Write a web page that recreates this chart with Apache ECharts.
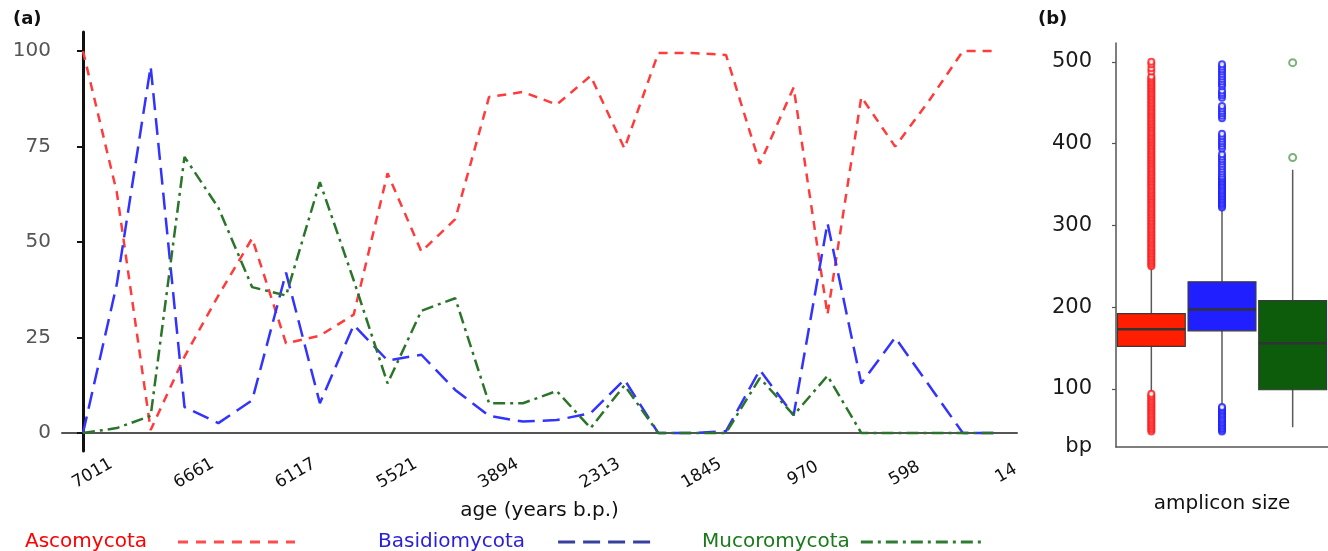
<!DOCTYPE html>
<html>
<head>
<meta charset="utf-8">
<script src="https://cdn.jsdelivr.net/npm/echarts@6/dist/echarts.min.js"></script>
<style>
  html, body { margin: 0; padding: 0; background: #fff; }
  #chart { width: 1328px; height: 551px; }
</style>
</head>
<body>
<div id="chart"></div>
<script>
// (a) relative abundance (%) per sample, oldest -> youngest
const ageTicks = ['7011', '6661', '6117', '5521', '3894', '2313', '1845', '970', '598', '14'];
const ageTickIndex = [0, 3, 6, 9, 12, 15, 18, 21, 24, 27];
const ascomycota = [100, 63, 0.8, 20, 36, 51, 23.5, 25.5, 31, 68, 47.5, 56, 88, 89.3, 86, 93.5, 74.5, 99.5, 99.5, 99, 70.5, 90.5, 31, 88, 75, 87, 100, 100];
const basidiomycota = [0, 39, 96, 6.8, 2.6, 8.6, 42, 7.8, 28.3, 19, 20.5, 11.3, 4.5, 3, 3.4, 5.2, 14, 0, 0, 0.5, 16.5, 4.7, 55, 13, 25, 12.5, 0, 0];
const mucoromycota = [0, 1.3, 4.5, 72.3, 59, 38.2, 36, 65.7, 40, 13, 32, 35.3, 7.8, 7.8, 11, 1.3, 12.5, 0, 0, 0, 14.4, 4.7, 15, 0, 0, 0, 0, 0];
const pctTicks = [0, 25, 50, 75, 100];

// (b) amplicon size (bp): [lower whisker, Q1, median, Q3, upper whisker]
const groups = ['Ascomycota', 'Basidiomycota', 'Mucoromycota'];
const boxStats = [
  [96, 152, 173, 192, 248],
  [82, 171, 197, 231, 320],
  [53, 99, 156, 208, 368]
];
const bpTicks = [100, 200, 300, 400, 500];
const ascoOutliers = [
  48, 50, 52, 54, 56, 58, 60, 62, 64, 66, 68, 70, 72, 74, 76, 78, 80, 82, 84, 86, 88, 90, 92, 94,
  250, 252, 254, 256, 258, 260, 262, 264, 266, 268, 270, 272, 274, 276, 278, 280, 282, 284, 286, 288,
  290, 292, 294, 296, 298, 300, 302, 304, 306, 308, 310, 312, 314, 316, 318, 320, 322, 324, 326, 328,
  330, 332, 334, 336, 338, 340, 342, 344, 346, 348, 350, 352, 354, 356, 358, 360, 362, 364, 366, 368,
  370, 372, 374, 376, 378, 380, 382, 384, 386, 388, 390, 392, 394, 396, 398, 400, 402, 404, 406, 408,
  410, 412, 414, 416, 418, 420, 422, 424, 426, 428, 430, 432, 434, 436, 438, 440, 442, 444, 446, 448,
  450, 452, 454, 456, 458, 460, 462, 464, 466, 468, 470, 472, 474, 476, 478, 480, 482,
  488, 492, 497, 500
];
const basidioOutliers = [
  48, 50, 52, 54, 56, 58, 60, 62, 64, 66, 68, 70, 72, 74, 76, 78,
  322, 324, 326, 328, 330, 332, 334, 336, 338, 340, 342, 344, 346, 348, 350, 352, 354, 356, 358, 360,
  363, 366, 369, 372, 375, 378, 381, 384, 387,
  394, 397, 400, 403, 406, 409, 412,
  431, 434, 437, 440, 443, 446,
  456, 459, 462, 465,
  470, 473, 476, 479, 482, 485, 488, 491, 494, 497
];
const mucoroOutliers = [383, 499];

const boxColors = ['#ff1e00', '#1f1fff', '#0c5c0c'];
const FONT = 'DejaVu Sans';

const chart = echarts.init(document.getElementById('chart'));

function renderBox(params, api) {
  const x = api.value(0);
  const lo = api.coord([x, api.value(1)]);
  const q1 = api.coord([x, api.value(2)]);
  const med = api.coord([x, api.value(3)]);
  const q3 = api.coord([x, api.value(4)]);
  const hi = api.coord([x, api.value(5)]);
  const w = api.size([1, 0])[0] * 0.96;
  return {
    type: 'group',
    children: [
      { type: 'line', shape: { x1: lo[0], y1: lo[1], x2: hi[0], y2: hi[1] },
        style: { stroke: '#5a5a5a', lineWidth: 1.5 } },
      { type: 'rect', shape: { x: q3[0] - w / 2, y: q3[1], width: w, height: q1[1] - q3[1] },
        style: { fill: boxColors[params.dataIndex], stroke: '#3a3a3a', lineWidth: 1.2 } },
      { type: 'line', shape: { x1: med[0] - w / 2, y1: med[1], x2: med[0] + w / 2, y2: med[1] },
        style: { stroke: '#333', lineWidth: 2.5 } }
    ]
  };
}

function legendFor(name, left, textColor, lineStyle, width, pad) {
  return {
    left: left, top: 527, align: 'right', orient: 'horizontal',
    itemWidth: width, itemHeight: 14, selectedMode: false,
    data: [{ name: name, lineStyle: lineStyle,
      itemStyle: { opacity: 0, borderWidth: 0 },
      textStyle: { color: textColor, fontSize: 20, fontFamily: FONT, padding: [0, pad, 0, 0] } }]
  };
}

const option = {
  animation: false,
  title: [
    { text: '(a)', left: 8, top: 5, textStyle: { fontSize: 18, fontWeight: 'bold', fontFamily: FONT, color: '#111' } },
    { text: '(b)', left: 1033, top: 5, textStyle: { fontSize: 18, fontWeight: 'bold', fontFamily: FONT, color: '#111' } }
  ],
  legend: [
    legendFor('Ascomycota', 20, '#ff0000', { color: '#ff4d4d', width: 3, type: [10, 8] }, 117, 26),
    legendFor('Basidiomycota', 373, '#2a1fd8', { color: '#36409e', width: 3, type: [17, 8] }, 97, 28),
    legendFor('Mucoromycota', 697, '#1b7a1b', { color: '#2e7d32', width: 3, type: [12, 5, 3, 5] }, 120, 6)
  ],
  grid: [
    { left: 62, right: 311, top: 32, bottom: 100 },
    { left: 1116, right: -6, top: 43, bottom: 104 }
  ],
  xAxis: [
    {
      gridIndex: 0, type: 'value', min: -0.62, max: 27.6,
      name: 'age (years b.p.)', nameLocation: 'middle', nameGap: 50,
      nameTextStyle: { fontSize: 20, fontFamily: FONT, color: '#111' },
      axisLine: { lineStyle: { color: '#555', width: 2 } },
      axisTick: { show: false },
      splitLine: { show: false },
      axisLabel: {
        customValues: ageTickIndex,
        formatter: v => ageTicks[ageTickIndex.indexOf(v)],
        rotate: 30, align: 'center', verticalAlign: 'middle', margin: 28,
        padding: [0, 0, 0, 22],
        fontSize: 17, fontFamily: FONT, color: '#111'
      }
    },
    {
      gridIndex: 1, type: 'category', data: groups, boundaryGap: true,
      name: 'amplicon size', nameLocation: 'middle', nameGap: 47,
      nameTextStyle: { fontSize: 20, fontFamily: FONT, color: '#111' },
      axisLine: { lineStyle: { color: '#555', width: 1.5 } },
      axisTick: { show: false },
      axisLabel: { show: false }
    }
  ],
  yAxis: [
    {
      gridIndex: 0, type: 'value', min: -4.7, max: 105,
      axisLine: { show: true, lineStyle: { color: '#111', width: 3 } },
      axisTick: { show: true, customValues: pctTicks, length: 6, lineStyle: { color: '#111', width: 2 } },
      splitLine: { show: false },
      axisLabel: { customValues: pctTicks, margin: 11, fontSize: 20, fontFamily: FONT, color: '#555' }
    },
    {
      gridIndex: 1, type: 'value', min: 29, max: 523,
      axisLine: { show: true, lineStyle: { color: '#555', width: 1.5 } },
      axisTick: { show: true, customValues: bpTicks, length: 4, lineStyle: { color: '#555', width: 1.2 } },
      splitLine: { show: false },
      axisLabel: {
        customValues: [29].concat(bpTicks),
        formatter: v => (v === 29 ? 'bp' : String(v)),
        margin: 24, fontSize: 21, fontFamily: FONT, color: '#1a1a1a'
      }
    }
  ],
  series: [
    {
      name: 'Ascomycota', type: 'line', xAxisIndex: 0, yAxisIndex: 0, symbol: 'none',
      data: ascomycota.map((v, i) => [i, v]),
      lineStyle: { color: '#ff3b3b', width: 2.5, type: [9, 7] }, itemStyle: { color: '#ff3b3b' }
    },
    {
      name: 'Basidiomycota', type: 'line', xAxisIndex: 0, yAxisIndex: 0, symbol: 'none',
      data: basidiomycota.map((v, i) => [i, v]),
      lineStyle: { color: '#3333ff', width: 2.5, type: [17, 8] }, itemStyle: { color: '#3333ff' }
    },
    {
      name: 'Mucoromycota', type: 'line', xAxisIndex: 0, yAxisIndex: 0, symbol: 'none',
      data: mucoromycota.map((v, i) => [i, v]),
      lineStyle: { color: '#2a752a', width: 2.5, type: [12, 5, 3, 5] }, itemStyle: { color: '#2a752a' }
    },
    {
      type: 'custom', xAxisIndex: 1, yAxisIndex: 1, renderItem: renderBox,
      data: boxStats.map((s, i) => [i].concat(s)), z: 2
    },
    {
      type: 'scatter', xAxisIndex: 1, yAxisIndex: 1, symbol: 'emptyCircle', symbolSize: 6,
      data: ascoOutliers.map(v => [0, v]),
      itemStyle: { color: '#ff1a1a', borderColor: '#ff1a1a', borderWidth: 2 }, z: 3
    },
    {
      type: 'scatter', xAxisIndex: 1, yAxisIndex: 1, symbol: 'emptyCircle', symbolSize: 6,
      data: basidioOutliers.map(v => [1, v]),
      itemStyle: { color: '#1a1aff', borderColor: '#1a1aff', borderWidth: 2 }, z: 3
    },
    {
      type: 'scatter', xAxisIndex: 1, yAxisIndex: 1, symbol: 'emptyCircle', symbolSize: 7,
      data: mucoroOutliers.map(v => [2, v]),
      itemStyle: { color: '#5a9e5a', borderColor: '#5a9e5a', borderWidth: 1.2 }, z: 3
    }
  ]
};

chart.setOption(option);
</script>
</body>
</html>
